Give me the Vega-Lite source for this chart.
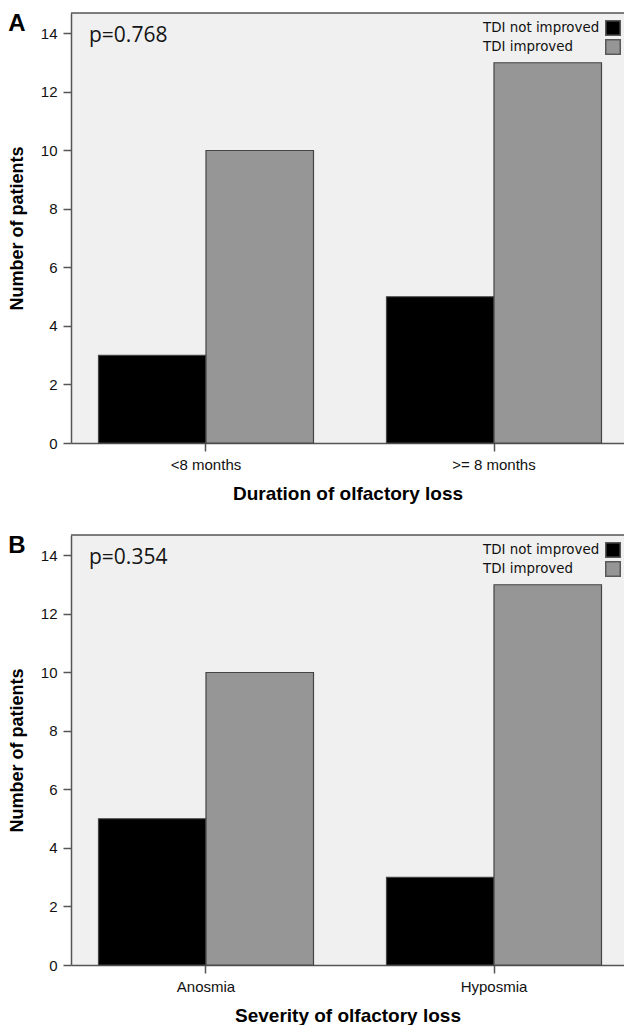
{
  "$schema": "https://vega.github.io/schema/vega-lite/v6.json",
  "background": "white",
  "padding": {"left": 8, "top": 12, "right": 0, "bottom": 0},
  "spacing": 31,
  "config": {
    "view": {"fill": "#f0f0f0", "stroke": null},
    "font": "Liberation Sans",
    "axis": {
      "domainColor": "#555555", "domainWidth": 1.5,
      "tickColor": "#555555", "tickWidth": 1.5, "tickSize": 8,
      "labelFont": "Liberation Sans", "labelFontSize": 15, "labelColor": "#111111",
      "titleFont": "Liberation Sans", "titleFontWeight": "bold", "titleColor": "#000000",
      "grid": false
    },
    "legend": {
      "title": null, "orient": "none", "legendX": 534, "legendY": 7, "padding": 0,
      "symbolType": "square", "symbolSize": 210, "symbolStrokeColor": "#5a5a5a", "symbolStrokeWidth": 1.5,
      "labelFont": "DejaVu Sans", "labelFontSize": 13.4, "labelColor": "#111111",
      "labelOffset": -138, "rowPadding": -4
    },
    "title": {"anchor": "start", "frame": "bounds", "fontSize": 24, "fontWeight": "bold", "font": "Liberation Sans", "color": "#000000", "offset": 0, "baseline": "alphabetic", "dy": 28}
  },
  "resolve": {"scale": {"color": "independent"}, "legend": {"color": "independent"}},
  "vconcat": [
    {
      "width": 553, "height": 430,
      "title": {"text": "A"},
      "data": {"values": [
        {"duration": "<8 months", "group": "TDI not improved", "patients": 3},
        {"duration": "<8 months", "group": "TDI improved", "patients": 10},
        {"duration": ">= 8 months", "group": "TDI not improved", "patients": 5},
        {"duration": ">= 8 months", "group": "TDI improved", "patients": 13}
      ]},
      "layer": [
        {
          "mark": {"type": "bar", "stroke": "#444444", "strokeWidth": 1.2},
          "encoding": {
            "x": {"field": "duration", "type": "nominal", "sort": ["<8 months", ">= 8 months"],
                  "scale": {"paddingInner": 0.2535, "paddingOuter": 0.0868, "align": 0.55},
                  "axis": {"title": "Duration of olfactory loss", "labelAngle": 0, "labelPadding": 6, "titlePadding": 12, "titleFontSize": 19}},
            "xOffset": {"field": "group", "type": "nominal", "sort": ["TDI not improved", "TDI improved"]},
            "y": {"field": "patients", "type": "quantitative", "scale": {"domain": [0, 14.7], "nice": false},
                  "axis": {"values": [0, 2, 4, 6, 8, 10, 12, 14], "title": "Number of patients", "titleFontSize": 18, "titlePadding": 14, "labelPadding": 6}},
            "color": {"field": "group", "type": "nominal",
                      "scale": {"domain": ["TDI not improved", "TDI improved"], "range": ["#000000", "#969696"]}}
          }
        },
        {
          "data": {"values": [{"p": "p=0.768"}]},
          "mark": {"type": "text", "align": "left", "baseline": "alphabetic", "font": "Open Sans", "fontSize": 21, "dx": -117, "color": "#151515"},
          "encoding": {"text": {"field": "p"}, "x": {"datum": "<8 months"}, "y": {"datum": 13.7}}
        },
        {
          "data": {"values": [{}]},
          "mark": {"type": "rule", "color": "#555555", "strokeWidth": 1.5},
          "encoding": {"y": {"datum": 14.7}}
        }
      ]
    },
    {
      "width": 553, "height": 430,
      "title": {"text": "B"},
      "data": {"values": [
        {"severity": "Anosmia", "group": "TDI not improved", "patients": 5},
        {"severity": "Anosmia", "group": "TDI improved", "patients": 10},
        {"severity": "Hyposmia", "group": "TDI not improved", "patients": 3},
        {"severity": "Hyposmia", "group": "TDI improved", "patients": 13}
      ]},
      "layer": [
        {
          "mark": {"type": "bar", "stroke": "#444444", "strokeWidth": 1.2},
          "encoding": {
            "x": {"field": "severity", "type": "nominal", "sort": ["Anosmia", "Hyposmia"],
                  "scale": {"paddingInner": 0.2535, "paddingOuter": 0.0868, "align": 0.55},
                  "axis": {"title": "Severity of olfactory loss", "labelAngle": 0, "labelPadding": 6, "titlePadding": 12, "titleFontSize": 19}},
            "xOffset": {"field": "group", "type": "nominal", "sort": ["TDI not improved", "TDI improved"]},
            "y": {"field": "patients", "type": "quantitative", "scale": {"domain": [0, 14.7], "nice": false},
                  "axis": {"values": [0, 2, 4, 6, 8, 10, 12, 14], "title": "Number of patients", "titleFontSize": 18, "titlePadding": 14, "labelPadding": 6}},
            "color": {"field": "group", "type": "nominal",
                      "scale": {"domain": ["TDI not improved", "TDI improved"], "range": ["#000000", "#969696"]}}
          }
        },
        {
          "data": {"values": [{"p": "p=0.354"}]},
          "mark": {"type": "text", "align": "left", "baseline": "alphabetic", "font": "Open Sans", "fontSize": 21, "dx": -117, "color": "#151515"},
          "encoding": {"text": {"field": "p"}, "x": {"datum": "Anosmia"}, "y": {"datum": 13.7}}
        },
        {
          "data": {"values": [{}]},
          "mark": {"type": "rule", "color": "#555555", "strokeWidth": 1.5},
          "encoding": {"y": {"datum": 14.7}}
        }
      ]
    }
  ]
}
